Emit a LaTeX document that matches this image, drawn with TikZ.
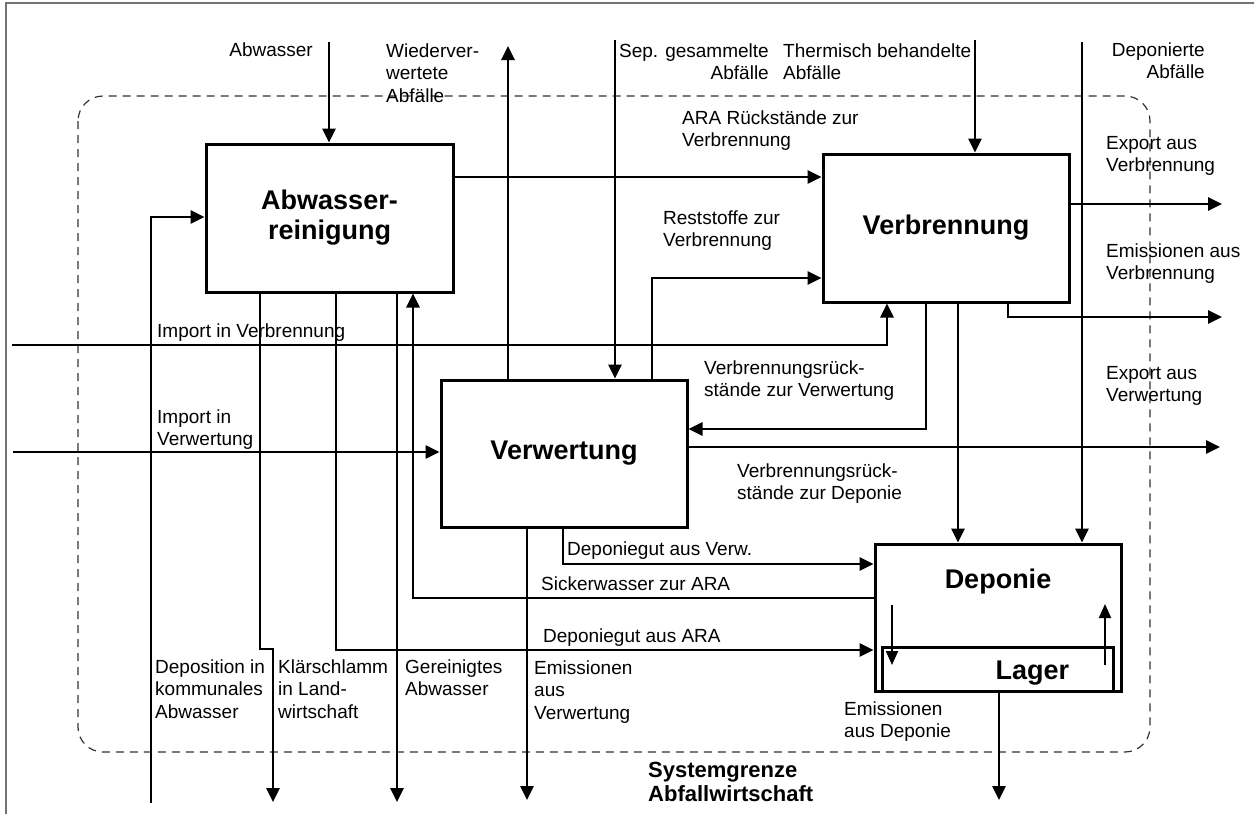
\documentclass[tikz,border=0pt]{standalone}
\usepackage{fontspec}
\setmainfont{Liberation Sans}
\usetikzlibrary{arrows.meta}
\begin{document}
\begin{tikzpicture}[x=1pt,y=-1pt,
  box/.style={draw, line width=3pt, inner sep=0pt, align=center,
    font=\fontsize{27}{30}\selectfont\bfseries},
  flow/.style={line width=2.7pt},
  arr/.style={flow, -{Triangle[length=14pt,width=13pt]}},
  small/.style={line width=2pt, -{Triangle[length=14pt,width=12pt]}},
  lab/.style={inner sep=0pt, align=left, font=\fontsize{19}{22.5}\selectfont},
  labr/.style={lab, align=right},
  title/.style={inner sep=0pt, align=left, font=\fontsize{22}{24}\selectfont\bfseries},
  bound/.style={black!80, line width=1.2pt, dash pattern=on 8pt off 6pt, rounded corners=25pt}]
\useasboundingbox (0,0) rectangle (1254,814);

% outer frame (top and left edge only)
\draw[black!55, line width=1.5pt] (6,814) -- (6,3) -- (1254,3);

% system boundary
\draw[bound] (78,96) rectangle (1150,752);

% processes
\node[box, minimum width=247pt, minimum height=148pt] (ara) at (329.5,218) {Abwasser-\\reinigung};
\node[box, minimum width=246pt, minimum height=148pt] (verb) at (946,228) {Verbrennung};
\node[box, minimum width=246pt, minimum height=147pt] (verw) at (564,453.5) {Verwertung};
\node[box, minimum width=246pt, minimum height=147pt] (dep) at (998,617.5) {};
\node[box, minimum width=231pt, minimum height=44pt] (lager) at (997.5,669) {};
\node[box, draw=none, anchor=base] (deplab) at (998,588) {Deponie};
\node[box, draw=none, anchor=base west] (lagerlab) at (994,679) {Lager};

% coordinates of free ends and bends
\coordinate (abw) at (329,42);
\coordinate (wied) at (508,46);
\coordinate (sep) at (615,40);
\coordinate (therm) at (975,40);
\coordinate (depa) at (1082,42);
\coordinate (arar) at (600,177);
\coordinate (rest) at (652,278);
\coordinate (expV) at (1222,204);
\coordinate (emVb) at (1008,317);
\coordinate (emV) at (1222,317);
\coordinate (impB) at (12,345);
\coordinate (impBb) at (887,345);
\coordinate (impW) at (13,452);
\coordinate (vrV) at (926,429);
\coordinate (expW) at (1220,447);
\coordinate (vrD) at (958,400);
\coordinate (dgV) at (563,564);
\coordinate (emW) at (527,800);
\coordinate (sick) at (413,598);
\coordinate (dgA) at (336,650);
\coordinate (kl1) at (260,649);
\coordinate (kl2) at (273,802);
\coordinate (ger) at (397,802);
\coordinate (depo) at (151,803);
\coordinate (depob) at (151,217);
\coordinate (emD) at (999,800);
\coordinate (inA) at (892,605);
\coordinate (inB) at (892,665);
\coordinate (outA) at (1105,665);
\coordinate (outB) at (1105,604);

% flows
\draw[arr] (abw) -- (abw |- ara.north);
\draw[arr] (wied |- verw.north) -- (wied);
\draw[arr] (sep) -- (sep |- verw.north);
\draw[arr] (therm) -- (therm |- verb.north);
\draw[arr] (depa) -- (depa |- dep.north);
\draw[arr] (ara.east |- arar) -- (verb.west |- arar);
\draw[arr] (rest |- verw.north) -- (rest) -- (rest -| verb.west);
\draw[arr] (verb.east |- expV) -- (expV);
\draw[arr] (emVb |- verb.south) -- (emVb) -- (emV);
\draw[arr] (impB) -- (impBb) -- (impBb |- verb.south);
\draw[arr] (impW) -- (verw.west |- impW);
\draw[arr] (vrV |- verb.south) -- (vrV) -- (vrV -| verw.east);
\draw[arr] (verw.east |- expW) -- (expW);
\draw[arr] (vrD |- verb.south) -- (vrD |- dep.north);
\draw[arr] (dgV |- verw.south) -- (dgV) -- (dgV -| dep.west);
\draw[arr] (emW |- verw.south) -- (emW);
\draw[arr] (sick -| dep.west) -- (sick) -- (sick |- ara.south);
\draw[arr] (dgA |- ara.south) -- (dgA) -- (dgA -| dep.west);
\draw[arr] (kl1 |- ara.south) -- (kl1) -| (kl2);
\draw[arr] (ger |- ara.south) -- (ger);
\draw[arr] (depo) -- (depob) -- (depob -| ara.west);
\draw[arr] (emD |- lager.south) -- (emD);
\draw[small] (inA) -- (inB);
\draw[small] (outA) -- (outB);

% flow labels (multi-line nodes sit on the baseline of their last line)
\node[lab, anchor=base east] (tAbw) at (313,56) {Abwasser};
\node[lab, anchor=base west] (tWied) at (386,102) {Wiederver-\\wertete\\Abfälle};
\node[labr, anchor=base east] (tSep) at (769,79.5) {Sep. gesammelte\\Abfälle};
\node[lab, anchor=base west] (tTherm) at (783,79.5) {Thermisch behandelte\\Abfälle};
\node[labr, anchor=base east] (tDepa) at (1205,78.5) {Deponierte\\Abfälle};
\node[lab, anchor=base west] (tArar) at (682,146.5) {ARA Rückstände zur\\Verbrennung};
\node[lab, anchor=base west] (tRest) at (663,246.5) {Reststoffe zur\\Verbrennung};
\node[lab, anchor=base west] (tExpV) at (1106,171.5) {Export aus\\Verbrennung};
\node[lab, anchor=base west] (tEmV) at (1106,279.5) {Emissionen aus\\Verbrennung};
\node[lab, anchor=base west] (tImpB) at (157,337) {Import in Verbrennung};
\node[lab, anchor=base west] (tImpW) at (157,445.5) {Import in\\Verwertung};
\node[lab, anchor=base west] (tVrV) at (704,396.5) {Verbrennungsrück-\\stände zur Verwertung};
\node[lab, anchor=base west] (tExpW) at (1106,401.5) {Export aus\\Verwertung};
\node[lab, anchor=base west] (tVrD) at (737,499.5) {Verbrennungsrück-\\stände zur Deponie};
\node[lab, anchor=base west] (tDgV) at (567,555) {Deponiegut aus Verw.};
\node[lab, anchor=base west] (tSick) at (541,590) {Sickerwasser zur ARA};
\node[lab, anchor=base west] (tDgA) at (543,642) {Deponiegut aus ARA};
\node[lab, anchor=base west] (tEmW) at (534,719) {Emissionen\\aus\\Verwertung};
\node[lab, anchor=base west] (tDepo) at (155,718) {Deposition in\\kommunales\\Abwasser};
\node[lab, anchor=base west] (tKl) at (278,718) {Klärschlamm\\in Land-\\wirtschaft};
\node[lab, anchor=base west] (tGer) at (405,695.5) {Gereinigtes\\Abwasser};
\node[lab, anchor=base west] (tEmD) at (844,737.5) {Emissionen\\aus Deponie};
\node[title, anchor=base west] (tSys) at (648,801) {Systemgrenze\\Abfallwirtschaft};
\end{tikzpicture}
\end{document}
